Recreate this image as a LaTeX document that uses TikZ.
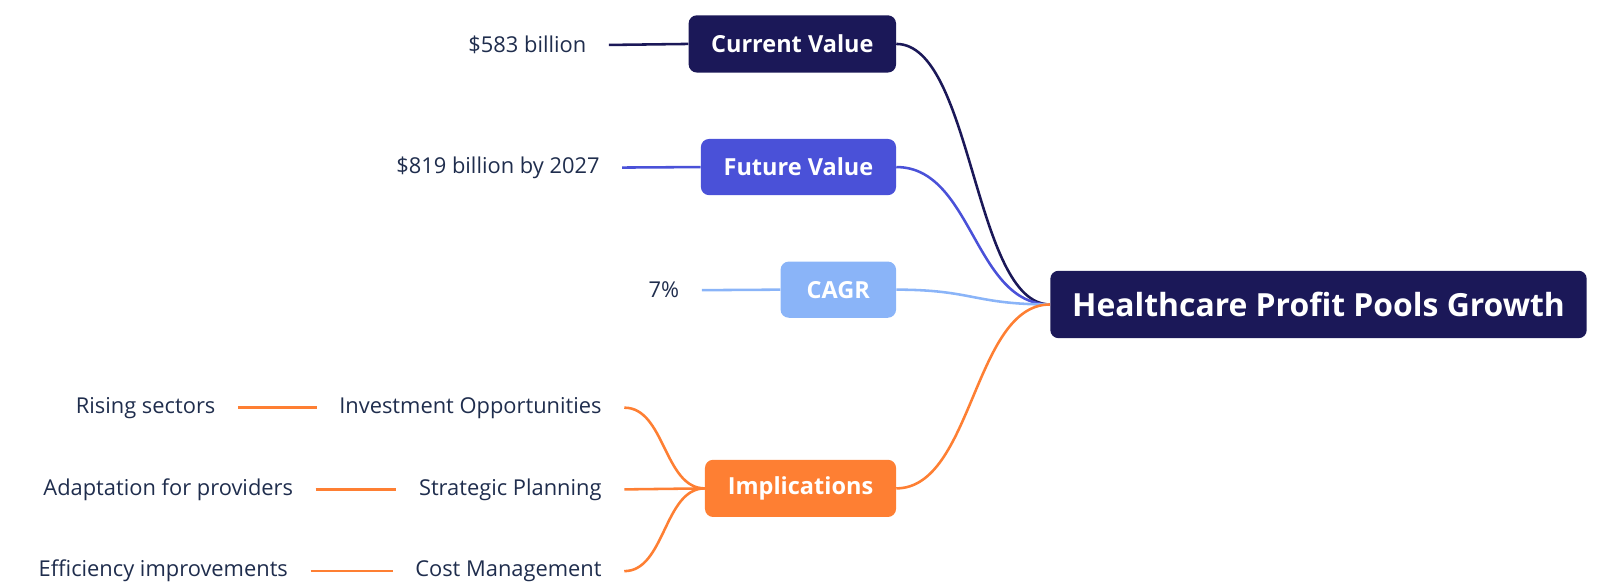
\documentclass[tikz,border=0pt]{standalone}
\usepackage{fontspec}
\setmainfont{Open Sans}
\usepackage{tikz}
\usetikzlibrary{positioning}
\definecolor{navy}{HTML}{1B1858}
\definecolor{indigo}{HTML}{4A51D8}
\definecolor{skyblue}{HTML}{8AB4F8}
\definecolor{orangeb}{HTML}{FE7F33}
\definecolor{inkt}{HTML}{1F2D4D}

\tikzset{
    topic/.style={rounded corners=8pt, text=white, font=\fontsize{23}{27}\selectfont\bfseries,
        minimum height=56pt, inner sep=0pt},
    leaf/.style={text=inkt, font=\fontsize{21.4}{25}\selectfont, inner xsep=22pt, inner ysep=0pt, anchor=east},
    link/.style={line width=2.5pt}
}

\begin{document}
\begin{tikzpicture}[x=1pt, y=-1pt]
    \useasboundingbox (0,0) rectangle (1566,574.6);

    \node[topic, fill=navy, minimum width=525pt, minimum height=66pt,
        font=\fontsize{31.2}{36}\selectfont\bfseries] (root) at (1290.5,298) {Healthcare Profit Pools Growth};

    \node[topic, fill=navy, minimum width=203pt] (cur) at (775.5,43) {Current Value};
    \node[topic, fill=indigo, minimum width=191pt, minimum height=55pt] (fut) at (781.5,163.5) {Future Value};
    \node[topic, fill=skyblue, minimum width=113pt, minimum height=55pt] (cagr) at (820.5,283.5) {CAGR};
    \node[topic, fill=orangeb, minimum width=187pt] (impl) at (783.5,478) {Implications};

    % values
    \node[leaf] (now) at (596,44) {\$583 billion};
    \node[leaf] (later) at (609,164) {\$819 billion by 2027};
    \node[leaf] (rate) at (687,284) {7\%};

    % implications
    \node[leaf] (invest) at (611,399) {Investment Opportunities};
    \node[leaf] (strat) at (611,479) {Strategic Planning};
    \node[leaf] (costm) at (611,559) {Cost Management};
    \node[leaf] (rising) at (233,399) {Rising sectors};
    \node[leaf] (adapt) at (309,479) {Adaptation for providers};
    \node[leaf] (effic) at (304,559) {Efficiency improvements};

    \draw[link, navy] (cur.east) .. controls +(75,0) and +(-75,0) .. (root.west);
    \draw[link, indigo] (fut.east) .. controls +(75,0) and +(-75,0) .. (root.west);
    \draw[link, skyblue] (cagr.east) .. controls +(75,0) and +(-75,0) .. (root.west);
    \draw[link, orangeb] (impl.east) .. controls +(75,0) and +(-75,0) .. (root.west);

    \draw[link, navy] (now.east) -- (cur.west);
    \draw[link, indigo] (later.east) -- (fut.west);
    \draw[link, skyblue] (rate.east) -- (cagr.west);

    \draw[link, orangeb] (impl.west) .. controls +(-40,0) and +(40,0) .. (invest.east);
    \draw[link, orangeb] (impl.west) -- (strat.east);
    \draw[link, orangeb] (impl.west) .. controls +(-40,0) and +(40,0) .. (costm.east);
    \draw[link, orangeb] (rising.east) -- (invest.west);
    \draw[link, orangeb] (adapt.east) -- (strat.west);
    \draw[link, orangeb] (effic.east) -- (costm.west);
\end{tikzpicture}
\end{document}
